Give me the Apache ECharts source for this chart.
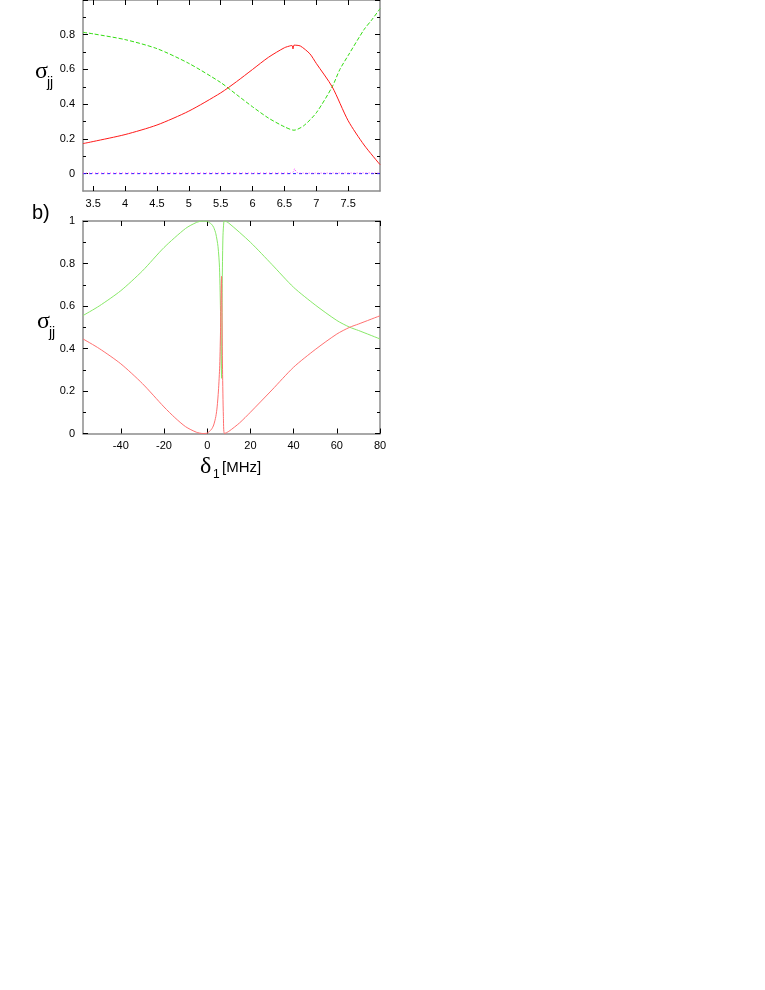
<!DOCTYPE html>
<html><head><meta charset="utf-8">
<script src="https://cdn.jsdelivr.net/npm/echarts@6/dist/echarts.min.js"></script>
<style>html,body{margin:0;padding:0;background:#fff}#c{width:765px;height:990px}</style>
</head><body><div id="c"></div>
<script>
// ---- top panel (a) data ----
var topRedX = [3.34,3.5,4,4.5,5,5.5,5.75,6,6.25,6.5,6.6,6.62,6.635,6.65,6.75,6.9,7,7.25,7.5,7.75,8];
var topRedY = [0.173,0.185,0.225,0.28,0.36,0.465,0.53,0.6,0.67,0.725,0.737,0.738,0.718,0.74,0.735,0.69,0.635,0.5,0.305,0.165,0.052];
var topGreenX = [3.34,3.5,4,4.5,5,5.5,5.75,6,6.25,6.5,6.65,6.8,7,7.25,7.37,7.5,7.75,7.87,8];
var topGreenY = [0.814,0.805,0.772,0.72,0.635,0.525,0.455,0.385,0.32,0.27,0.25,0.275,0.35,0.5,0.6,0.68,0.83,0.885,0.95];
var topBlueX = [3.34,4,5,6,7,8];
var topBlueY = [0,0,0,0,0,0];
var topMagX = [3.34,6.6,6.64,6.66,6.68,6.72,8];
var topMagY = [0.003,0.003,0.01,0.03,0.01,0.003,0.004];
var topXTicks = [3.5,4,4.5,5,5.5,6,6.5,7,7.5];
var topYMajor = [0,0.2,0.4,0.6,0.8,1];
var topYMinor = [0.1,0.3,0.5,0.7,0.9];
// ---- bottom panel (b) data ----
var botRedX = [-57.5,-50,-40,-30,-20,-15,-10,-5,-2,0,2,3,4,4.6,5.2,5.8,6.2,6.5,6.65,6.8,7.1,7.5,8,10,15,20,30,40,50,60,66,70,80];
var botRedY = [0.445,0.4,0.328,0.235,0.125,0.075,0.032,0.006,0.0,0.002,0.02,0.04,0.08,0.125,0.2,0.32,0.5,0.7,0.74,0.6,0.3,0.08,0.0,0.01,0.05,0.1,0.205,0.312,0.395,0.468,0.5,0.515,0.554];
var botGreenX = [-57.5,-50,-40,-30,-20,-10,-5,-2,0,2,3,4,5,5.7,6.2,6.5,6.65,6.8,7.0,7.3,7.7,8,10,20,30,40,50,60,66,70,80];
var botGreenY = [0.555,0.6,0.672,0.765,0.875,0.965,0.993,1.0,0.998,0.985,0.97,0.94,0.88,0.78,0.55,0.32,0.26,0.4,0.74,0.93,0.995,1.0,0.99,0.9,0.795,0.688,0.605,0.532,0.5,0.485,0.445];
var botXTicks = [-40,-20,0,20,40,60,80];
var botYMajor = [0,0.2,0.4,0.6,0.8,1];
var botYMinor = [0.1,0.3,0.5,0.7,0.9];

function pairs(xs, ys){ return xs.map(function(x,i){return [x, ys[i]];}); }

var FONT = 'Liberation Sans';
var lineGray = {show:true, onZero:false, lineStyle:{color:'#8c8c8c', width:1.5}};

function xAx(grid, min, max, ticks, pos, showLabels){
  return {type:'value', gridIndex:grid, min:min, max:max, position:pos,
    axisLine:lineGray, splitLine:{show:false},
    axisTick:{show:true, inside:true, length:5, customValues:ticks, lineStyle:{color:'#000'}},
    axisLabel:{show:showLabels, customValues:ticks, color:'#000', fontFamily:FONT, fontSize:11, margin:7}};
}
function yAx(grid, min, max, ticks, pos, len, labels, line){
  return {type:'value', gridIndex:grid, min:min, max:max, position:pos, offset:0,
    axisLine: line ? lineGray : {show:false, onZero:false}, splitLine:{show:false},
    axisTick:{show:true, inside:true, length:len, customValues:ticks, lineStyle:{color:'#000'}},
    axisLabel:{show:!!labels, customValues:labels||ticks, color:'#000', fontFamily:FONT, fontSize:11, margin:8}};
}

var option = {
  animation:false,
  backgroundColor:'#fff',
  grid:[
    {left:83, top:-21, width:297, height:212},
    {left:83, top:221, width:297, height:212.5}
  ],
  xAxis:[
    xAx(0, 3.34, 8, topXTicks, 'bottom', true),
    xAx(0, 3.34, 8, topXTicks, 'top', false),
    xAx(1, -57.5, 80, botXTicks, 'bottom', true),
    xAx(1, -57.5, 80, botXTicks, 'top', false)
  ],
  yAxis:[
    yAx(0, -0.1, 1, topYMajor, 'left', 5, [0,0.2,0.4,0.6,0.8], true),
    yAx(0, -0.1, 1, topYMinor, 'left', 3, null, false),
    yAx(0, -0.1, 1, topYMajor, 'right', 5, null, true),
    yAx(0, -0.1, 1, topYMinor, 'right', 3, null, false),
    yAx(1, 0, 1, botYMajor, 'left', 5, botYMajor, true),
    yAx(1, 0, 1, botYMinor, 'left', 3, null, false),
    yAx(1, 0, 1, botYMajor, 'right', 5, null, true),
    yAx(1, 0, 1, botYMinor, 'right', 3, null, false)
  ],
  series:[
    {type:'line', xAxisIndex:0, yAxisIndex:0, data:pairs(topBlueX, topBlueY), showSymbol:false, smooth:false,
      lineStyle:{color:'#2020ff', width:1, type:[3,3]}},
    {type:'line', xAxisIndex:0, yAxisIndex:0, data:pairs(topMagX, topMagY), showSymbol:false, smooth:false,
      lineStyle:{color:'#ff44ff', width:1, type:[1,2]}},
    {type:'line', xAxisIndex:0, yAxisIndex:0, data:pairs(topGreenX, topGreenY), showSymbol:false, smooth:0.25,
      lineStyle:{color:'#33dd11', width:1, type:[4,2]}},
    {type:'line', xAxisIndex:0, yAxisIndex:0, data:pairs(topRedX, topRedY), showSymbol:false, smooth:0.25,
      lineStyle:{color:'#ff1a1a', width:1}},
    {type:'line', xAxisIndex:2, yAxisIndex:4, data:pairs(botGreenX, botGreenY), showSymbol:false, smooth:0.25,
      lineStyle:{color:'#88e868', width:1}},
    {type:'line', xAxisIndex:2, yAxisIndex:4, data:pairs(botRedX, botRedY), showSymbol:false, smooth:0.25,
      lineStyle:{color:'#ff7070', width:1}}
  ],
  graphic:[
    {type:'text', left:35, top:60, style:{text:'σ', font:'24px "Liberation Serif"', fill:'#000'}},
    {type:'text', left:47, top:76, style:{text:'jj', font:'14px "Liberation Sans"', fill:'#000'}},
    {type:'text', left:32, top:203, style:{text:'b)', font:'20px "Liberation Sans"', fill:'#000'}},
    {type:'text', left:37, top:310, style:{text:'σ', font:'24px "Liberation Serif"', fill:'#000'}},
    {type:'text', left:49, top:326, style:{text:'jj', font:'14px "Liberation Sans"', fill:'#000'}},
    {type:'text', left:200, top:455, style:{text:'δ', font:'24px "Liberation Serif"', fill:'#000'}},
    {type:'text', left:213, top:469, style:{text:'1', font:'12px "Liberation Sans"', fill:'#000'}},
    {type:'text', left:222, top:460, style:{text:'[MHz]', font:'15px "Liberation Sans"', fill:'#000'}}
  ]
};
var chart = echarts.init(document.getElementById('c'), null, {renderer:'canvas'});
chart.setOption(option);
</script>
</body></html>
